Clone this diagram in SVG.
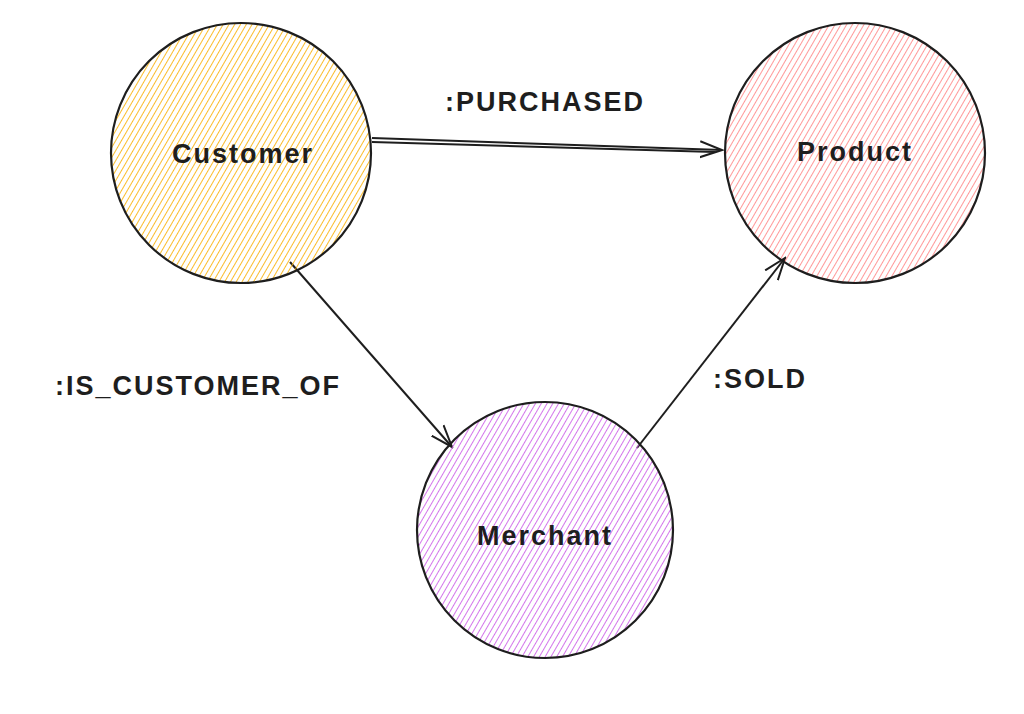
<svg xmlns="http://www.w3.org/2000/svg" width="1024" height="714" viewBox="0 0 1024 714">
<style>
.node{stroke:#1e1e1e;stroke-width:2.2}
.lbl{font-family:"Liberation Sans",Arial,sans-serif;font-size:27px;fill:#1e1e1e;font-weight:bold;letter-spacing:2px}
.edge{stroke:#1e1e1e;stroke-width:2;fill:none}
</style>
<defs>
<pattern id="hy" width="5" height="5" patternUnits="userSpaceOnUse" patternTransform="rotate(30)"><line x1="0" y1="0" x2="0" y2="5" stroke="#fab005" stroke-width="1.7"/></pattern>
<pattern id="hr" width="5" height="5" patternUnits="userSpaceOnUse" patternTransform="rotate(30)"><line x1="0" y1="0" x2="0" y2="5" stroke="#ff8787" stroke-width="1.7"/></pattern>
<pattern id="hp" width="5" height="5" patternUnits="userSpaceOnUse" patternTransform="rotate(30)"><line x1="0" y1="0" x2="0" y2="5" stroke="#cc5de8" stroke-width="1.7"/></pattern>
<marker id="ah" markerWidth="24" markerHeight="20" refX="22" refY="10" orient="auto" markerUnits="userSpaceOnUse"><path d="M0,2 L22,10 L0,18" fill="none" stroke="#1e1e1e" stroke-width="2"/></marker>
</defs>
<rect width="1024" height="714" fill="#fff"/>
<g id="edges">
<path class="edge" d="M372,138 L722,150" marker-end="url(#ah)"/>
<path class="edge" d="M372,142 L715,152"/>
<path class="edge" d="M290,262 L452,447" marker-end="url(#ah)"/>
<path class="edge" d="M637,448 L785,258" marker-end="url(#ah)"/>
<text class="lbl" x="545" y="111" text-anchor="middle">:PURCHASED</text>
<text class="lbl" x="55" y="395">:IS_CUSTOMER_OF</text>
<text class="lbl" x="713" y="388">:SOLD</text>
</g>
<g id="customer"><circle class="node" cx="241" cy="153" r="130" fill="url(#hy)"/><text class="lbl" x="243" y="163" text-anchor="middle">Customer</text></g>
<g id="product"><circle class="node" cx="855" cy="153" r="130" fill="url(#hr)"/><text class="lbl" x="855" y="161" text-anchor="middle">Product</text></g>
<g id="merchant"><circle class="node" cx="545" cy="530" r="128" fill="url(#hp)"/><text class="lbl" x="545" y="545" text-anchor="middle">Merchant</text></g>
</svg>
